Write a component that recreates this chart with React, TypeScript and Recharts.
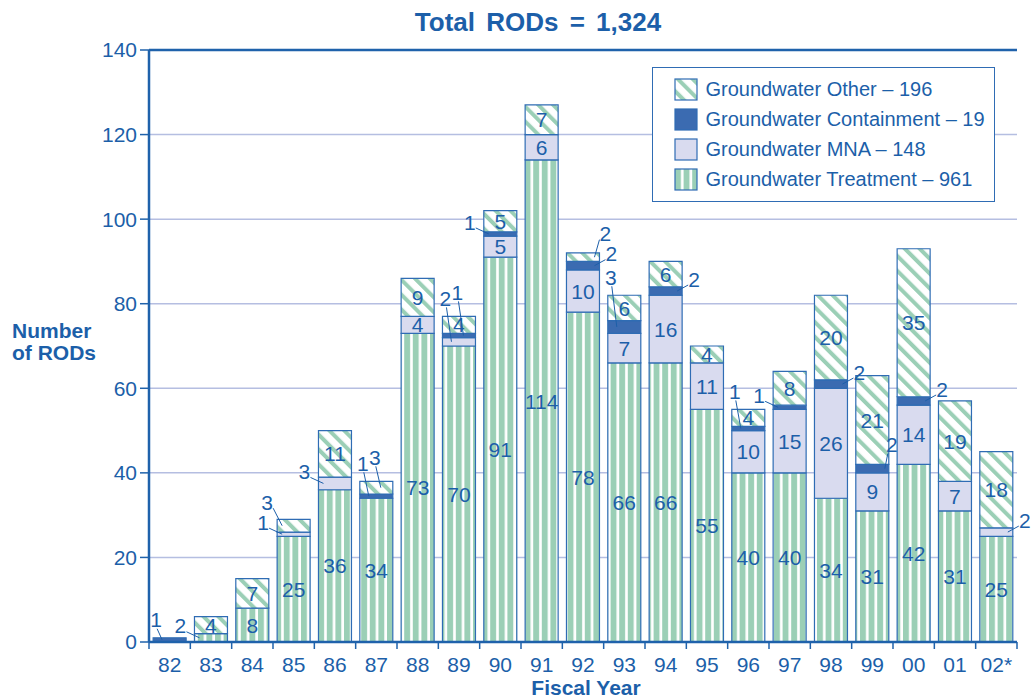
import React from 'react';
import { BarChart, Bar, XAxis, YAxis, CartesianGrid, ReferenceLine, LabelList, Legend } from 'recharts';

// ---- data ----
const YEARS = ['82', '83', '84', '85', '86', '87', '88', '89', '90', '91', '92', '93', '94', '95', '96', '97', '98', '99', '00', '01', '02*'];
const TREATMENT = [0, 2, 8, 25, 36, 34, 73, 70, 91, 114, 78, 66, 66, 55, 40, 40, 34, 31, 42, 31, 25];
const MNA = [0, 0, 0, 1, 3, 0, 4, 2, 5, 6, 10, 7, 16, 11, 10, 15, 26, 9, 14, 7, 2];
const CONTAINMENT = [1, 0, 0, 0, 0, 1, 0, 1, 1, 0, 2, 3, 2, 0, 1, 1, 2, 2, 2, 0, 0];
const OTHER = [0, 4, 7, 3, 11, 3, 9, 4, 5, 7, 2, 6, 6, 4, 4, 8, 20, 21, 35, 19, 18];
const Y_TICKS = [0, 20, 40, 60, 80, 100, 120, 140];
const TITLE = 'Total RODs = 1,324';
const LEGEND_ITEMS = [
  { key: 'other', label: 'Groundwater Other \u2013 196' },
  { key: 'containment', label: 'Groundwater Containment \u2013 19' },
  { key: 'mna', label: 'Groundwater MNA \u2013 148' },
  { key: 'treatment', label: 'Groundwater Treatment \u2013 961' },
];

const SERIES = [TREATMENT, MNA, CONTAINMENT, OTHER];
const TOTALS = YEARS.map((_, i) => SERIES.reduce((s, a) => s + a[i], 0));
const DATA = YEARS.map((year, i) => ({
  year,
  treatment: TREATMENT[i],
  mna: MNA[i],
  containment: CONTAINMENT[i],
  other: OTHER[i],
}));

// ---- layout / style ----
const W = 1036;
const H = 698;
const PLOT_LEFT = 149;
const PLOT_RIGHT = 1017;
const PLOT_TOP = 50;
const PLOT_BOTTOM = 642;
const YAXIS_W = 60;
const XAXIS_H = 30;
const BAND = (PLOT_RIGHT - PLOT_LEFT) / YEARS.length;

const FONT = '"Liberation Sans", Arial, Helvetica, sans-serif';
const TEXT = '#1c5fa9';
const AXIS = '#1f62ab';
const EDGE = '#2f6cb4';
const GRID = '#b5bee1';
const GREEN = '#9bcfb6';
const LAVENDER = '#d9dbef';
const DARK = '#3b6bb1';

const isSmall = (s: number, v: number) => v > 0 && (s === 2 || v <= 3);

type Place = { mode: string; lx: number; ly: number; sx?: number; sy?: number; ex?: number; ey?: number };

function layoutBar(i: number, x: number, w: number, pxOf: (u: number) => number) {
  const out: Record<number, Place> = {};
  let base = 0;
  let prevSideY: number | null = null;
  let kTop = 0;
  let kSide = 0;
  const n = YEARS.length;
  const prefer = i >= n / 2 ? 'right' : 'left';
  const other = prefer === 'left' ? 'right' : 'left';
  for (let s = 0; s < SERIES.length; s++) {
    const v = SERIES[s][i];
    if (v > 0) {
      const c = base + v / 2;
      const ey = pxOf(c);
      if (!isSmall(s, v)) {
        out[s] = { mode: 'center', lx: x + w / 2, ly: ey };
      } else {
        const level = c + 4;
        const blocked = (side: string) =>
          side === 'left' ? i === 0 || TOTALS[i - 1] > level : i < n - 1 && TOTALS[i + 1] > level;
        let mode = !blocked(prefer) ? prefer : !blocked(other) ? other : 'top';
        if (mode === 'top' && TOTALS[i] - (base + v) > 8) mode = 'hug';
        if (mode === 'top') {
          const ly = pxOf(TOTALS[i]) - 18 - 6 * kTop;
          const lx = x + 3 + 12 * kTop;
          out[s] = { mode, lx, ly, sx: lx + 1, sy: ly + 9, ex: lx + 6, ey };
          kTop++;
        } else if (mode === 'hug') {
          const right = prefer === 'right';
          const lx = right ? x + w + 3 : x - 3;
          const ly = ey - 24;
          out[s] = { mode, lx, ly, sx: right ? lx - 4 : lx + 4, sy: ly + 9, ex: right ? x + w - 4 : x + 4, ey };
        } else {
          let ly = ey - 12;
          if (prevSideY !== null) ly = Math.min(ly, prevSideY - 20);
          prevSideY = ly;
          const lx = mode === 'left' ? x - 14 + 4 * kSide : x + w + 12 - 6 * kSide;
          out[s] = {
            mode,
            lx,
            ly,
            sx: mode === 'left' ? lx + 6 : lx - 6,
            sy: ly + 6,
            ex: mode === 'left' ? x + 5 : x + w - 5,
            ey,
          };
          kSide++;
        }
      }
    }
    base += v;
  }
  return out;
}

const makeLabel = (s: number) => (p: any) => {
  const vb = p && p.viewBox && p.viewBox.width !== undefined ? p.viewBox : p;
  const x = Number(vb.x);
  const y = Number(vb.y);
  const w = Number(vb.width);
  const h = Number(vb.height);
  if (!isFinite(x) || !isFinite(y) || !isFinite(h) || !isFinite(w) || h <= 0) return null;
  // category index: from payload when present, otherwise from the band the bar sits in
  let index = -1;
  if (p.payload && p.payload.year !== undefined) index = YEARS.indexOf(p.payload.year);
  if (index < 0) index = Math.floor((x + w / 2 - PLOT_LEFT) / BAND);
  if (index < 0 || index >= YEARS.length) return null;
  const v = SERIES[s][index];
  if (!v) return null;
  let base = 0;
  for (let k = 0; k < s; k++) base += SERIES[k][index];
  const ppu = h / v;
  const segBottom = y + h;
  const pxOf = (u: number) => segBottom - (u - base) * ppu;
  const places = layoutBar(index, x, w, pxOf);
  const pl = places[s];
  if (!pl) return null;
  return (
    <g key={`lab-${s}-${index}`}>
      {pl.mode !== 'center' && (
        <line x1={pl.sx} y1={pl.sy} x2={pl.ex} y2={pl.ey} stroke={TEXT} strokeWidth={1} />
      )}
      <text x={pl.lx} y={pl.ly} dy="0.36em" textAnchor="middle" fontSize={21} fill={TEXT} fontFamily={FONT}>
        {v}
      </text>
    </g>
  );
};

function XTick(props: any) {
  const { x, payload } = props;
  const index = props.index !== undefined ? props.index : payload.index;
  const half = BAND / 2;
  const last = index === YEARS.length - 1;
  return (
    <g>
      <line x1={x - half} x2={x - half} y1={PLOT_BOTTOM} y2={PLOT_BOTTOM + 7} stroke={AXIS} strokeWidth={1.5} />
      {last && <line x1={x + half} x2={x + half} y1={PLOT_BOTTOM} y2={PLOT_BOTTOM + 7} stroke={AXIS} strokeWidth={1.5} />}
      <text x={x} y={PLOT_BOTTOM + 30} textAnchor="middle" fontSize={21} fill={TEXT} fontFamily={FONT}>
        {payload.value}
      </text>
    </g>
  );
}

function Swatch({ kind }: { kind: string }) {
  const id = `sw-${kind}`;
  let fill = LAVENDER;
  let defs: React.ReactNode = null;
  if (kind === 'containment') fill = DARK;
  if (kind === 'treatment') {
    fill = `url(#${id})`;
    defs = (
      <pattern id={id} patternUnits="userSpaceOnUse" width="8.6" height="10" x="1">
        <rect width="8.6" height="10" fill="#fff" />
        <rect width="5.9" height="10" fill={GREEN} />
      </pattern>
    );
  }
  if (kind === 'other') {
    fill = `url(#${id})`;
    defs = (
      <pattern id={id} patternUnits="userSpaceOnUse" width="10.5" height="10.5" patternTransform="rotate(-45)">
        <rect width="10.5" height="10.5" fill="#fff" />
        <rect width="4" height="10.5" fill={GREEN} />
      </pattern>
    );
  }
  return (
    <svg width={24} height={23} style={{ position: 'absolute', left: 21, top: -11.5 }}>
      {defs && <defs>{defs}</defs>}
      <rect x={1} y={1} width={22} height={21} fill={fill} stroke={EDGE} strokeWidth={1.2} />
    </svg>
  );
}

function LegendBox() {
  return (
    <div
      style={{
        position: 'relative',
        width: 343,
        height: 135,
        border: `1.5px solid ${EDGE}`,
        boxSizing: 'border-box',
        background: '#fff',
        fontFamily: FONT,
      }}
    >
      {LEGEND_ITEMS.map((it, k) => (
        <div key={it.key} style={{ position: 'absolute', left: 0, top: 21 + 30 * k, width: '100%', height: 0 }}>
          <Swatch kind={it.key} />
          <div
            style={{
              position: 'absolute',
              left: 52.5,
              top: -12,
              fontSize: 20,
              lineHeight: '24px',
              color: TEXT,
              whiteSpace: 'nowrap',
            }}
          >
            {it.label}
          </div>
        </div>
      ))}
    </div>
  );
}

export default function App() {
  return (
    <div
      style={{
        position: 'absolute',
        left: 0,
        top: 0,
        width: W,
        height: H,
        background: '#fff',
        fontFamily: FONT,
        overflow: 'hidden',
      }}
    >
      <BarChart
        width={W}
        height={H}
        data={DATA}
        margin={{ top: PLOT_TOP, right: W - PLOT_RIGHT, left: PLOT_LEFT - YAXIS_W, bottom: H - PLOT_BOTTOM - XAXIS_H }}
        barCategoryGap="10%"
        style={{ fontFamily: FONT }}
      >
        <defs>
          <pattern id="pTreat" patternUnits="userSpaceOnUse" width="8.6" height="10">
            <rect width="8.6" height="10" fill="#fff" />
            <rect width="5.9" height="10" fill={GREEN} />
          </pattern>
          <pattern id="pOther" patternUnits="userSpaceOnUse" width="10.5" height="10.5" patternTransform="rotate(-45)">
            <rect width="10.5" height="10.5" fill="#fff" />
            <rect width="4" height="10.5" fill={GREEN} />
          </pattern>
        </defs>
        <CartesianGrid vertical={false} stroke={GRID} strokeWidth={1.5} />
        <XAxis
          dataKey="year"
          interval={0}
          tickLine={false}
          axisLine={{ stroke: AXIS, strokeWidth: 2.5 }}
          tick={<XTick />}
          height={XAXIS_H}
        />
        <YAxis
          domain={[0, 140]}
          ticks={Y_TICKS}
          interval={0}
          width={YAXIS_W}
          tickSize={9}
          tickMargin={3}
          tickLine={{ stroke: AXIS, strokeWidth: 1.5 }}
          axisLine={{ stroke: AXIS, strokeWidth: 2.5 }}
          tick={{ fill: TEXT, fontSize: 21, fontFamily: FONT }}
        />
        <YAxis
          yAxisId="r"
          orientation="right"
          domain={[0, 140]}
          tick={false}
          tickLine={false}
          axisLine={{ stroke: AXIS, strokeWidth: 2.5 }}
          width={0}
        />
        <ReferenceLine y={140} stroke={AXIS} strokeWidth={2.5} />
        <Legend
          layout="horizontal"
          verticalAlign="middle"
          align="center"
          wrapperStyle={{ left: 652, top: 67, width: 343, height: 135 }}
          content={() => <LegendBox />}
        />
        <Bar dataKey="treatment" stackId="a" fill="url(#pTreat)" stroke={EDGE} strokeWidth={1.2} isAnimationActive={false}>
          <LabelList dataKey="treatment" content={makeLabel(0)} />
        </Bar>
        <Bar dataKey="mna" stackId="a" fill={LAVENDER} stroke={EDGE} strokeWidth={1.2} isAnimationActive={false}>
          <LabelList dataKey="mna" content={makeLabel(1)} />
        </Bar>
        <Bar dataKey="containment" stackId="a" fill={DARK} stroke={EDGE} strokeWidth={1.2} isAnimationActive={false}>
          <LabelList dataKey="containment" content={makeLabel(2)} />
        </Bar>
        <Bar dataKey="other" stackId="a" fill="url(#pOther)" stroke={EDGE} strokeWidth={1.2} isAnimationActive={false}>
          <LabelList dataKey="other" content={makeLabel(3)} />
        </Bar>
      </BarChart>

      <div
        style={{
          position: 'absolute',
          left: 238,
          width: 600,
          top: 7,
          textAlign: 'center',
          fontSize: 26,
          lineHeight: '30px',
          fontWeight: 'bold',
          color: TEXT,
          wordSpacing: 4,
          whiteSpace: 'nowrap',
        }}
      >
        {TITLE}
      </div>
      <div
        style={{
          position: 'absolute',
          left: 12,
          top: 320,
          fontSize: 21,
          lineHeight: '22px',
          fontWeight: 'bold',
          color: TEXT,
          whiteSpace: 'nowrap',
        }}
      >
        Number
        <br />
        of RODs
      </div>
      <div
        style={{
          position: 'absolute',
          left: 386,
          width: 400,
          top: 678,
          textAlign: 'center',
          fontSize: 21,
          lineHeight: '20px',
          fontWeight: 'bold',
          color: TEXT,
          whiteSpace: 'nowrap',
        }}
      >
        Fiscal Year
      </div>
    </div>
  );
}
